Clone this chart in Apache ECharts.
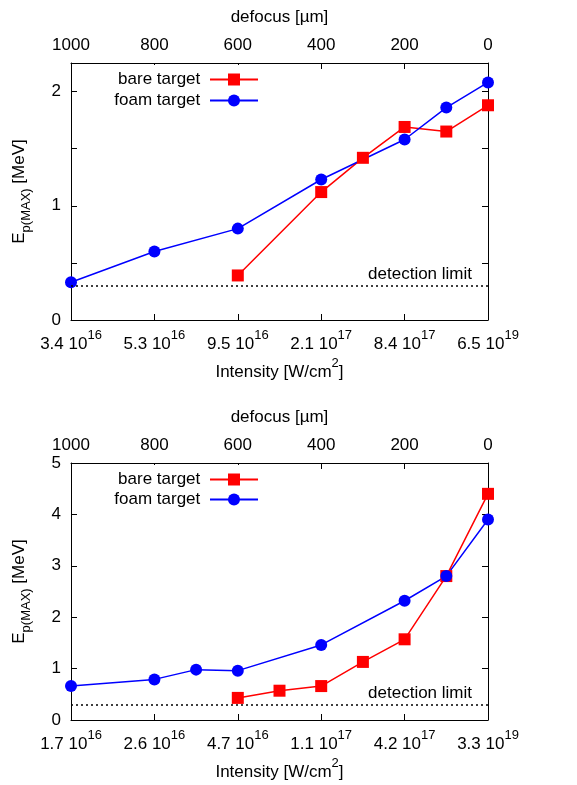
<!DOCTYPE html>
<html>
<head>
<meta charset="utf-8">
<script src="https://cdn.jsdelivr.net/npm/echarts@6/dist/echarts.min.js"></script>
<style>html,body{margin:0;padding:0;background:#fff}#c{width:577px;height:785px}</style>
</head>
<body>
<div id="c"></div>
<script>
// ---- data ----
const defocusTicks = [1000, 800, 600, 400, 200, 0];
const intensityMant1 = ['3.4', '5.3', '9.5', '2.1', '8.4', '6.5'];
const intensityExp1 = ['16', '16', '16', '17', '17', '19'];
const intensityMant2 = ['1.7', '2.6', '4.7', '1.1', '4.2', '3.3'];
const intensityExp2 = ['16', '16', '16', '17', '17', '19'];

const bare1Defocus = [600, 400, 300, 200, 100, 0];
const bare1Energy  = [0.39, 1.12, 1.42, 1.69, 1.65, 1.88];
const foam1Defocus = [1000, 800, 600, 400, 200, 100, 0];
const foam1Energy  = [0.33, 0.60, 0.80, 1.23, 1.58, 1.86, 2.08];

const bare2Defocus = [600, 500, 400, 300, 200, 100, 0];
const bare2Energy  = [0.43, 0.57, 0.66, 1.13, 1.57, 2.80, 4.40];
const foam2Defocus = [1000, 800, 700, 600, 400, 200, 100, 0];
const foam2Energy  = [0.66, 0.79, 0.98, 0.96, 1.46, 2.32, 2.80, 3.90];

const detectionLimit = 0.3;

// ---- chart ----
const FONT = 'Liberation Sans, Arial, sans-serif';
const BLACK = '#000';
const RED = '#ff0000';
const BLUE = '#0000ff';

function pairs(xs, ys) { return xs.map((x, i) => [x, ys[i]]); }

function intensityFormatter(mant, exp) {
  return function (v) {
    const i = defocusTicks.indexOf(v);
    if (i < 0) return '';
    return '{m|' + mant[i] + ' 10}{s|' + exp[i] + '}';
  };
}

const supRich = {
  m: { fontSize: 17, fontFamily: FONT, color: BLACK, lineHeight: 24, verticalAlign: 'bottom' },
  s: { fontSize: 13, fontFamily: FONT, color: BLACK, lineHeight: 10, verticalAlign: 'top' }
};
const nameRichX = {
  n: { fontSize: 17, fontFamily: FONT, color: BLACK, lineHeight: 24, verticalAlign: 'bottom' },
  s: { fontSize: 13, fontFamily: FONT, color: BLACK, lineHeight: 10, verticalAlign: 'top' }
};
const nameRichY = {
  e: { fontSize: 17, fontFamily: FONT, color: BLACK, lineHeight: 22, verticalAlign: 'top' },
  b: { fontSize: 13, fontFamily: FONT, color: BLACK, lineHeight: 12, verticalAlign: 'bottom' }
};

const axisLine = { show: true, onZero: false, lineStyle: { color: BLACK, width: 1 } };
const tickIn = { show: true, inside: true, length: 6, lineStyle: { color: BLACK, width: 1 } };

function topX(gi) {
  return {
    type: 'value', gridIndex: gi, position: 'top', min: 0, max: 1000, interval: 200, inverse: true,
    axisLine: axisLine, axisTick: tickIn, splitLine: { show: false },
    axisLabel: { fontSize: 17, fontFamily: FONT, color: BLACK, margin: 9, formatter: v => String(v) },
    name: 'defocus [µm]', nameLocation: 'middle', nameGap: 37,
    nameTextStyle: { fontSize: 17, fontFamily: FONT, color: BLACK }
  };
}
function bottomX(gi, mant, exp) {
  return {
    type: 'value', gridIndex: gi, position: 'bottom', min: 0, max: 1000, interval: 200, inverse: true,
    axisLine: axisLine, axisTick: tickIn, splitLine: { show: false },
    axisLabel: { formatter: intensityFormatter(mant, exp), rich: supRich, margin: 9, hideOverlap: false },
    name: '{n|Intensity [W/cm}{s|2}{n|]}', nameLocation: 'middle', nameGap: 37,
    nameTextStyle: { rich: nameRichX }
  };
}
function leftY(gi, max, interval) {
  return {
    type: 'value', gridIndex: gi, position: 'left', min: 0, max: max, interval: interval,
    axisLine: axisLine, axisTick: tickIn, splitLine: { show: false },
    axisLabel: {
      fontSize: 17, fontFamily: FONT, color: BLACK, margin: 10,
      showMaxLabel: true,
      formatter: v => (Math.abs(v - Math.round(v)) < 1e-9 ? String(Math.round(v)) : '')
    },
    name: '{e|E}{b|p(MAX)}{e| [MeV]}', nameLocation: 'middle', nameGap: 38, nameRotate: 90,
    nameTextStyle: { rich: nameRichY }
  };
}
function rightY(gi, max, interval) {
  return {
    type: 'value', gridIndex: gi, position: 'right', min: 0, max: max, interval: interval,
    axisLine: axisLine, axisTick: tickIn, splitLine: { show: false },
    axisLabel: { show: false }
  };
}

function series(name, gi, xs, ys, color, symbol, withLimit) {
  const s = {
    type: 'line', name: name, xAxisIndex: gi * 2, yAxisIndex: gi * 2,
    data: pairs(xs, ys), clip: false,
    symbol: symbol, symbolSize: 12,
    lineStyle: { color: color, width: 1.5 },
    itemStyle: { color: color },
    emphasis: { disabled: true },
    animation: false, z: 3
  };
  if (withLimit) {
    s.markLine = {
      silent: true, symbol: 'none', animation: false,
      lineStyle: { color: BLACK, width: 1.5, type: [2, 3] },
      label: {
        show: true, position: 'insideStartTop', formatter: 'detection limit',
        fontSize: 17, fontFamily: FONT, color: BLACK, distance: [16, 3]
      },
      data: [{ yAxis: detectionLimit }]
    };
  }
  return s;
}

function legendItem(name, top, pad) {
  return {
    data: [name], orient: 'vertical', align: 'right', right: 318, top: top,
    padding: pad, backgroundColor: '#fff',
    itemWidth: 48, itemHeight: 15, selectedMode: false,
    formatter: n => n + ' ',
    textStyle: { fontSize: 17, fontFamily: FONT, color: BLACK }
  };
}

const option = {
  backgroundColor: '#fff',
  animation: false,
  grid: [
    { left: 71, right: 89, top: 63, height: 257 },
    { left: 71, right: 89, top: 463, height: 257 }
  ],
  xAxis: [
    bottomX(0, intensityMant1, intensityExp1), topX(0),
    bottomX(1, intensityMant2, intensityExp2), topX(1)
  ],
  yAxis: [
    leftY(0, 2.25, 0.5), rightY(0, 2.25, 0.5),
    leftY(1, 5, 1), rightY(1, 5, 1)
  ],
  legend: [
    legendItem('bare target', 65, [6, 0, 0, 0]),
    legendItem('foam target', 92, 0),
    legendItem('bare target', 465, [6, 0, 0, 0]),
    legendItem('foam target', 491, 0)
  ],
  series: [
    series('bare target', 0, bare1Defocus, bare1Energy, RED, 'rect', true),
    series('foam target', 0, foam1Defocus, foam1Energy, BLUE, 'circle', false),
    series('bare target', 1, bare2Defocus, bare2Energy, RED, 'rect', true),
    series('foam target', 1, foam2Defocus, foam2Energy, BLUE, 'circle', false)
  ]
};

const chart = echarts.init(document.getElementById('c'), null, { renderer: 'canvas' });
chart.setOption(option);
</script>
</body>
</html>
